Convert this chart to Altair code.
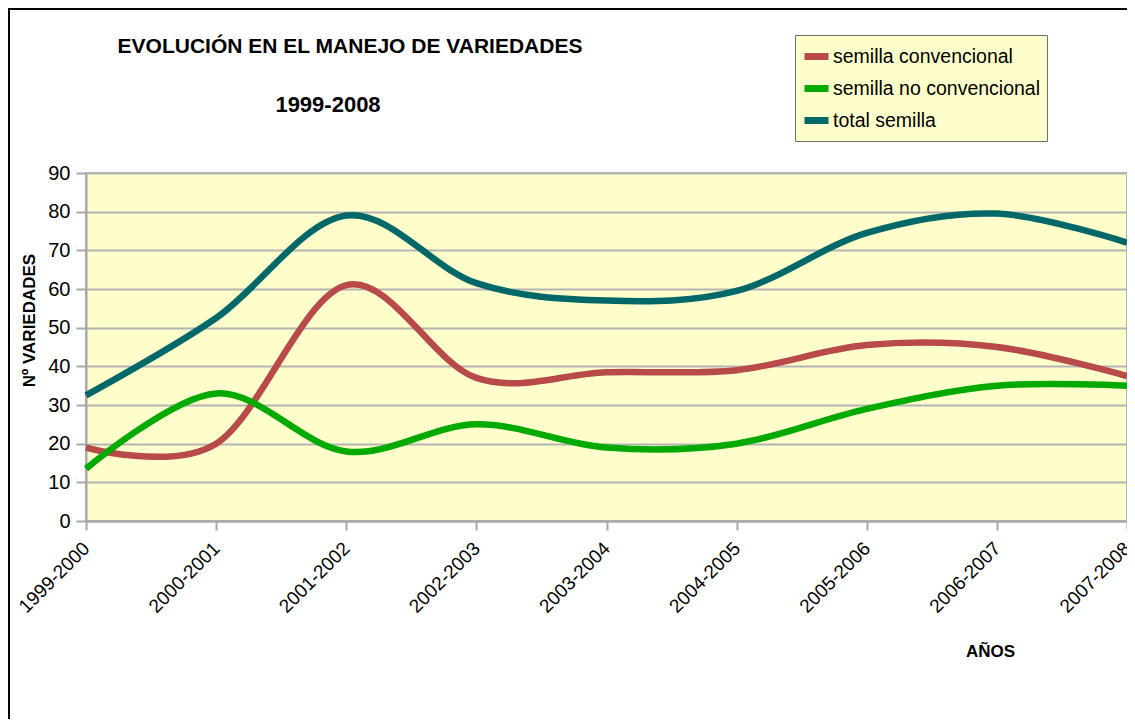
import altair as alt
import pandas as pd

years = ["1999-2000", "2000-2001", "2001-2002", "2002-2003", "2003-2004",
         "2004-2005", "2005-2006", "2006-2007", "2007-2008"]
convencional = [19, 20, 61, 37, 38.5, 39, 45.5, 45, 37.5]
no_convencional = [13.5, 33, 18, 25, 19, 20, 29, 35, 35]
total = [32.5, 52.5, 79, 61.5, 57, 59.5, 74.5, 79.5, 72]

series_names = ["semilla convencional", "semilla no convencional", "total semilla"]
series_colors = ["#B84A4A", "#00AA00", "#006868"]

rows = []
for name, vals in zip(series_names, [convencional, no_convencional, total]):
    for i, (y, v) in enumerate(zip(years, vals)):
        rows.append({"year": y, "value": v, "serie": name, "idx": i})
df = pd.DataFrame(rows)

FONT = "Liberation Sans"
W, H = 1041, 348

lines = alt.Chart(df).mark_line(
    strokeWidth=6.5, interpolate="cardinal", tension=0, strokeCap="butt"
).encode(
    x=alt.X("year:N", sort=years, scale=alt.Scale(type="point", padding=0),
            axis=alt.Axis(title="AÑOS", labelAngle=-45, labelAlign="right",
                          labelBaseline="middle", labelFontSize=19, labelFont=FONT,
                          labelColor="black", labelPadding=15, tickSize=9,
                          tickColor="#A8A8A8", tickWidth=2, domainColor="#A8A8A8",
                          domainWidth=2, grid=False, labelLimit=300,
                          titleFont=FONT, titleFontSize=17,
                          titleFontWeight="bold", titleColor="black",
                          titleX=904, titleY=130, titleAlign="center",
                          titleBaseline="middle", titleAngle=0)),
    y=alt.Y("value:Q", scale=alt.Scale(domain=[0, 90], nice=False),
            axis=alt.Axis(title="Nº VARIEDADES", values=list(range(0, 91, 10)),
                          labelFontSize=20, labelFont=FONT, labelColor="black",
                          labelPadding=6, tickSize=10, tickColor="#A8A8A8",
                          tickWidth=2, domainColor="#A8A8A8", domainWidth=2,
                          gridColor="#B4B4B4", gridWidth=2,
                          titleFont=FONT, titleFontSize=17, titleFontWeight="bold",
                          titleColor="black", titleX=-57, titleY=147,
                          titleAlign="center", titleBaseline="middle", titleAngle=-90)),
    color=alt.Color("serie:N", scale=alt.Scale(domain=series_names, range=series_colors),
                    legend=alt.Legend(title=None, orient="none", legendX=709, legendY=-138,
                                      fillColor="#FFFFCC", strokeColor="#707070",
                                      padding=6, rowPadding=2, symbolType="stroke",
                                      symbolStrokeWidth=7, symbolSize=576,
                                      labelFontSize=19.5, labelFont=FONT, labelLimit=400,
                                      labelColor="black", labelOffset=1)),
    order=alt.Order("idx:Q"),
)

title1 = alt.Chart(pd.DataFrame({"t": ["EVOLUCIÓN EN EL MANEJO DE VARIEDADES"]})).mark_text(
    font=FONT, fontSize=21, fontWeight="bold", color="black", align="center", baseline="middle"
).encode(text="t:N", x=alt.value(264), y=alt.value(-126))

title2 = alt.Chart(pd.DataFrame({"t": ["1999-2008"]})).mark_text(
    font=FONT, fontSize=22, fontWeight="bold", color="black", align="center", baseline="middle"
).encode(text="t:N", x=alt.value(242), y=alt.value(-68))

frame_left = alt.Chart(pd.DataFrame({"a": [0]})).mark_rule(color="black", strokeWidth=2).encode(
    x=alt.value(-77), y=alt.value(-164), y2=alt.value(560))
frame_top = alt.Chart(pd.DataFrame({"a": [0]})).mark_rule(color="black", strokeWidth=2).encode(
    x=alt.value(-78), x2=alt.value(1060), y=alt.value(-164))

chart = alt.layer(frame_left, frame_top, title1, title2, lines).properties(
    width=W, height=H,
    autosize=alt.AutoSizeParams(type="none"),
    padding={"left": 78, "top": 165, "right": 0, "bottom": 198},
    background="white",
).configure_view(
    fill="#FFFFCC", stroke="#B4B4B4", strokeWidth=2
)

chart.save("out.html", embed_options={"renderer": "svg", "actions": False})
